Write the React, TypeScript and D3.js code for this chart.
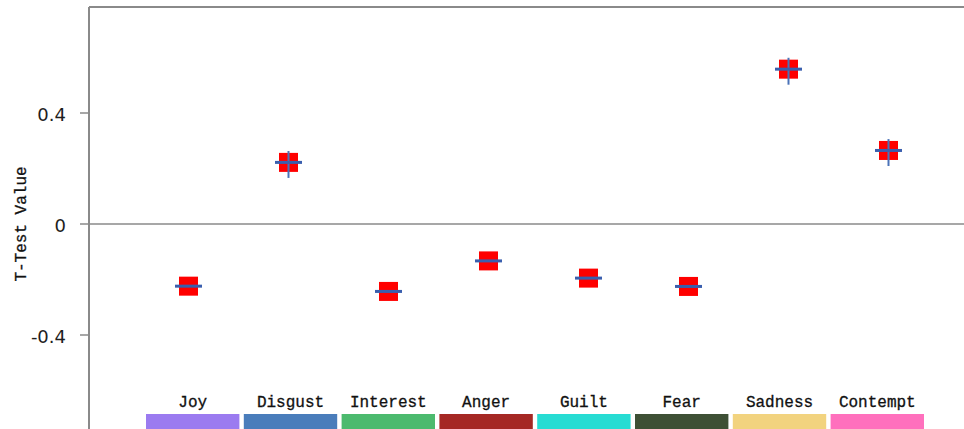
import React from "react";
import * as d3 from "d3";

// Emotion categories and their mean T-test values
const categories = ["Joy", "Disgust", "Interest", "Anger", "Guilt", "Fear", "Sadness", "Contempt"];
const tValues = [-0.224, 0.222, -0.243, -0.133, -0.195, -0.225, 0.558, 0.265];
// Vertical error extents above / below each mean
const errUpper = [0, 0.041, 0, 0, 0, 0, 0.041, 0.041];
const errLower = [0, 0.056, 0, 0, 0, 0, 0.056, 0.056];
const categoryColors = ["#9b7bf0", "#4a7dbb", "#4cba6e", "#a52824", "#27dcd3", "#3e5035", "#f2d37f", "#ff70bd"];
const yTicks = [-0.4, 0, 0.4];
const yTickLabels = ["-0.4", "0", "0.4"];
const yLabel = "T-Test Value";

const W = 964;
const H = 429;
const axisX = 89;
const plotTop = 7;

export default function App() {
  const y = d3.scaleLinear().domain([-0.4, 0.4]).range([335, 113]);
  const x = d3.scalePoint<string>().domain(categories).range([188.5, 888.5]);
  const band = d3.scaleBand<string>().domain(categories).range([146, 924]).paddingInner(0.045);

  const markerSize = 19;
  const capHalf = 13.5;
  const mono = "'Liberation Mono', 'DejaVu Sans Mono', monospace";

  return (
    <svg
      width={W}
      height={H}
      style={{ position: "absolute", left: 0, top: 0, background: "#fff" }}
    >
      {/* frame: left axis, top border, zero line */}
      <line x1={axisX} x2={axisX} y1={plotTop} y2={H} stroke="#8a8a8a" strokeWidth={2} />
      <line x1={axisX} x2={W} y1={plotTop} y2={plotTop} stroke="#8a8a8a" strokeWidth={2} />
      <line x1={axisX} x2={W} y1={y(0)} y2={y(0)} stroke="#8a8a8a" strokeWidth={1.6} />

      {/* y ticks */}
      {yTicks.map((t, i) => (
        <g key={t}>
          <line x1={80} x2={axisX} y1={y(t)} y2={y(t)} stroke="#8a8a8a" strokeWidth={1.5} />
          <text
            x={66}
            y={y(t) + 8}
            textAnchor="end"
            fontFamily="'DejaVu Sans', sans-serif"
            fontSize={18}
            fill="#1e1e1e"
          >
            {yTickLabels[i]}
          </text>
        </g>
      ))}

      {/* y axis title */}
      <text
        transform={`translate(26, ${y(0)}) rotate(-90)`}
        textAnchor="middle"
        fontFamily={mono}
        fontSize={16}
        fill="#111"
        stroke="#111"
        strokeWidth={0.3}
      >
        {yLabel}
      </text>

      {/* category strip */}
      {categories.map((c, i) => (
        <g key={c}>
          <rect x={band(c)} y={414} width={band.bandwidth()} height={H - 414} fill={categoryColors[i]} />
          <text
            x={(band(c) as number) + band.bandwidth() / 2}
            y={407}
            textAnchor="middle"
            fontFamily={mono}
            fontSize={16}
            fill="#111"
            stroke="#111"
            strokeWidth={0.3}
          >
            {c}
          </text>
        </g>
      ))}

      {/* means with error bars */}
      {categories.map((c, i) => {
        const cx = x(c) as number;
        const cy = y(tValues[i]);
        return (
          <g key={c}>
            <rect
              x={cx - markerSize / 2}
              y={cy - markerSize / 2}
              width={markerSize}
              height={markerSize}
              fill="#ff0000"
            />
            {errUpper[i] + errLower[i] > 0 && (
              <line
                x1={cx}
                x2={cx}
                y1={y(tValues[i] + errUpper[i])}
                y2={y(tValues[i] - errLower[i])}
                stroke="#4a72b8"
                strokeWidth={2}
              />
            )}
            <line
              x1={cx - capHalf}
              x2={cx + capHalf}
              y1={cy}
              y2={cy}
              stroke="#3a5fae"
              strokeWidth={3}
            />
          </g>
        );
      })}
    </svg>
  );
}
